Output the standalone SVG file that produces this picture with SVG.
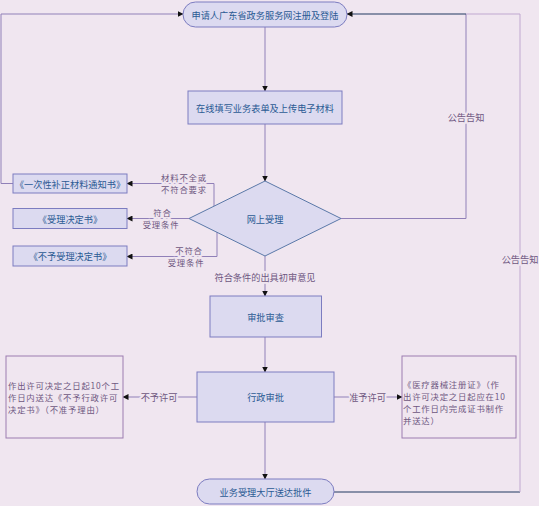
<svg xmlns="http://www.w3.org/2000/svg" width="539" height="506" viewBox="0 0 539 506">
<style>
.bg{fill:#F0E6F0}
.node{fill:#DCDAF0;stroke:#7C7CC0;stroke-width:1}
.note{fill:#F0E6F0;stroke:#9C7CB0;stroke-width:1}
.nt{font-family:"Noto Sans CJK SC","Noto Sans",sans-serif;font-size:9.2px;fill:#2B5A94;text-anchor:middle;dominant-baseline:central}
.bt{font-family:"Noto Sans CJK SC","Noto Sans",sans-serif;font-size:8.4px;letter-spacing:0.8px;fill:#6E5680;dominant-baseline:central}
.lbl{font-family:"Noto Sans CJK SC","Noto Sans",sans-serif;font-size:9.2px;fill:#6E5680;text-anchor:middle;dominant-baseline:central;paint-order:stroke;stroke:#F0E6F0;stroke-width:4px;stroke-linejoin:round}
.ml{font-size:8.4px;letter-spacing:0.8px}
.ln{fill:none;stroke:#9080B8;stroke-width:1}
.dk{fill:none;stroke:#203860;stroke-width:1.2}
</style>
<defs>
<marker id="ah" markerWidth="6" markerHeight="6" refX="5.5" refY="3" orient="auto" markerUnits="userSpaceOnUse">
<path d="M0,0 L6,3 L0,6 Z" fill="#111"/>
</marker>
</defs>
<rect class="bg" x="0" y="0" width="539" height="506"/>
<g id="connectors">
<path class="ln" d="M265,27 V91" marker-end="url(#ah)"/>
<path class="ln" d="M265,124 V181" marker-end="url(#ah)"/>
<path class="ln" d="M265,256 V296" marker-end="url(#ah)"/>
<path class="ln" d="M265,337 V372" marker-end="url(#ah)"/>
<path class="ln" d="M265,422 V479" marker-end="url(#ah)"/>
<path class="ln" d="M341,218.5 H466 V14"/>
<path class="dk" d="M466,14 H347" marker-end="url(#ah)"/>
<path class="dk" d="M334,492 H520"/>
<path class="ln" d="M520,492 V14 H466" style="stroke:#C0A8D0"/>
<path class="ln" d="M13,183.5 H1 V14 H183" marker-end="url(#ah)"/>
<path class="ln" d="M214,206 V183.5 H127" marker-end="url(#ah)"/>
<path class="ln" d="M189,218.5 H127" marker-end="url(#ah)"/>
<path class="ln" d="M217,232 V256.5 H127" marker-end="url(#ah)"/>
<path class="ln" d="M197,397 H123" marker-end="url(#ah)"/>
<path class="ln" d="M334,397 H402" marker-end="url(#ah)"/>
<text class="lbl" x="466" y="117">公告告知</text>
<text class="lbl" x="520" y="259">公告告知</text>
<text class="lbl ml" x="184" y="176.5">材料不全或</text>
<text class="lbl ml" x="184" y="189">不符合要求</text>
<text class="lbl ml" x="162.5" y="212">符合</text>
<text class="lbl ml" x="161" y="224">受理条件</text>
<text class="lbl ml" x="189" y="249.5">不符合</text>
<text class="lbl ml" x="186" y="261.5">受理条件</text>
<text class="lbl" x="265" y="277">符合条件的出具初审意见</text>
<text class="lbl" x="159" y="397">不予许可</text>
<text class="lbl" x="367.5" y="397">准予许可</text>
</g>
<g id="start">
<rect class="node" x="183" y="2" width="164" height="25" rx="12.5"/>
<text class="nt" x="265" y="14.5">申请人广东省政务服务网注册及登陆</text>
</g>
<g id="fill-form">
<rect class="node" x="188" y="91" width="154" height="33"/>
<text class="nt" x="265" y="107.5">在线填写业务表单及上传电子材料</text>
</g>
<g id="online-accept">
<polygon class="node" points="265,181 341,218.5 265,256 189,218.5" style="stroke:#5A78A8"/>
<text class="nt" x="265" y="218.5">网上受理</text>
</g>
<g id="notice-supplement">
<rect class="node" x="13" y="174" width="114" height="19"/>
<text class="nt" x="70" y="183.5">《一次性补正材料通知书》</text>
</g>
<g id="accept-decision">
<rect class="node" x="13" y="208.5" width="114" height="20"/>
<text class="nt" x="70" y="218.5">《受理决定书》</text>
</g>
<g id="reject-decision">
<rect class="node" x="13" y="246" width="114" height="20"/>
<text class="nt" x="70" y="256">《不予受理决定书》</text>
</g>
<g id="review">
<rect class="node" x="210" y="296" width="111.5" height="41"/>
<text class="nt" x="265.5" y="316.5">审批审查</text>
</g>
<g id="admin-approval">
<rect class="node" x="197" y="372" width="137" height="50"/>
<text class="nt" x="265.5" y="397">行政审批</text>
</g>
<g id="deny-note">
<rect class="note" x="6" y="356" width="117" height="82"/>
<text class="bt" x="8" y="384.5">作出许可决定之日起10个工</text>
<text class="bt" x="8" y="396.5">作日内送达《不予行政许可</text>
<text class="bt" x="8" y="408.5">决定书》（不准予理由）</text>
</g>
<g id="grant-note">
<rect class="note" x="402" y="356" width="114" height="82"/>
<text class="bt" x="403" y="384">《医疗器械注册证》（作</text>
<text class="bt" x="403" y="396">出许可决定之日起应在10</text>
<text class="bt" x="403" y="408">个工作日内完成证书制作</text>
<text class="bt" x="403" y="420">并送达）</text>
</g>
<g id="deliver">
<rect class="node" x="197" y="479" width="137" height="25" rx="12.5"/>
<text class="nt" x="265.5" y="491.5">业务受理大厅送达批件</text>
</g>
</svg>
